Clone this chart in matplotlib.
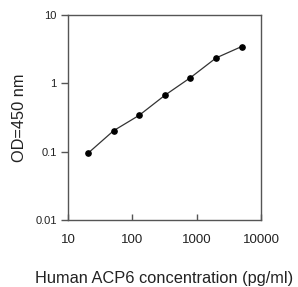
# ELISA standard curve, log-log
import matplotlib
matplotlib.use("Agg")
import matplotlib.pyplot as plt
from matplotlib.ticker import FixedLocator, FixedFormatter, NullLocator

# data
concentration = [20.48, 51.2, 128, 320, 800, 2000, 5000]
od_450 = [0.095, 0.203, 0.341, 0.668, 1.21, 2.35, 3.45]

x_ticks = [10, 100, 1000, 10000]
x_labels = ["10", "100", "1000", "10000"]
y_ticks = [0.01, 0.1, 1, 10]
y_labels = ["0.01", "0.1", "1", "10"]

plt.rcParams['font.family'] = ['Liberation Sans', 'DejaVu Sans']

fig = plt.figure(figsize=(2.98, 2.87), dpi=100)
ax = fig.add_axes([0.228, 0.233, 0.648, 0.715])

ax.plot(concentration, od_450, color='#333333', lw=0.9,
        marker='o', ms=3.8, mfc='black', mec='black')

ax.set_xscale('log')
ax.set_yscale('log')
ax.set_xlim(10, 10000)
ax.set_ylim(0.01, 10)

ax.xaxis.set_major_locator(FixedLocator(x_ticks))
ax.xaxis.set_major_formatter(FixedFormatter(x_labels))
ax.yaxis.set_major_locator(FixedLocator(y_ticks))
ax.yaxis.set_major_formatter(FixedFormatter(y_labels))
ax.xaxis.set_minor_locator(NullLocator())
ax.yaxis.set_minor_locator(NullLocator())

for s in ax.spines.values():
    s.set_color('#555555')
    s.set_linewidth(1.0)
# x ticks point inward, y ticks outward
ax.tick_params(axis='x', direction='in', length=4, width=1, color='#555555',
               labelsize=9.5, labelcolor='#222222', pad=10)
ax.tick_params(axis='y', direction='out', length=5, width=1, color='#555555',
               labelsize=8, labelcolor='#222222', pad=3)

ax.set_xlabel('Human ACP6 concentration (pg/ml)', fontsize=11.8, color='#222222', va='center')
ax.set_ylabel('OD=450 nm', fontsize=11.8, color='#222222', va='center')
ax.xaxis.set_label_coords(0.5, -0.283)
ax.yaxis.set_label_coords(-0.249, 0.5)

plt.savefig('out.png', dpi=100)
